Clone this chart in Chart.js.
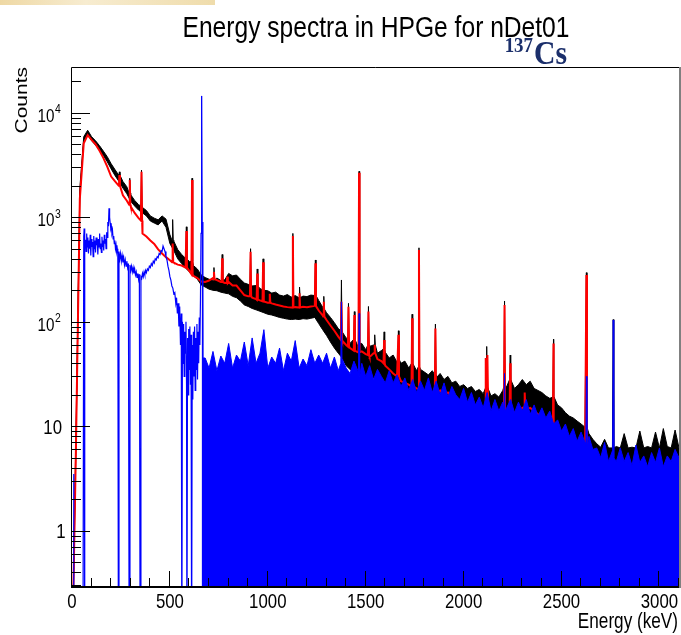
<!DOCTYPE html>
<html>
<head>
<meta charset="utf-8">
<title>Energy spectra in HPGe for nDet01</title>
<script src="https://cdn.jsdelivr.net/npm/chart.js@4.4.0/dist/chart.umd.min.js"></script>
<style>
  html, body { margin: 0; padding: 0; background: #fff; }
  #wrap { position: relative; width: 681px; height: 635px; }
  #strip { position: absolute; left: 0; top: 0; width: 215px; height: 5px;
           background: linear-gradient(to right, #eed8a4, #f7ecd0 40%, #efdcab); }
</style>
</head>
<body>
<div id="wrap">
  <canvas id="spectrum" width="681" height="635"></canvas>
  <div id="strip"></div>
</div>
<script>
// energy bins every 20 keV, 0..3100
const energy = Array.from({length: 156}, (_, i) => i * 20);

const xTickLabels = [0, 500, 1000, 1500, 2000, 2500, 3000];
const yTickLabels = [1, 10, 100, 1000, 10000];

// background spectrum (red)
const redCounts = [
  0.05, 6, 1500, 5100, 6100, 5500, 5000, 4350, 3700, 3050,
  2450, 2200, 2020, 1620, 1440, 1270, 1100, 980, 700, 655,
  600, 555, 492, 450, 415, 388, 368, 352, 345, 330,
  305, 275, 262, 243, 240, 248, 262, 250, 240, 235,
  240, 222, 222, 200, 180, 175, 170, 165, 160, 156,
  152, 150, 146, 143, 140, 138, 137, 138, 137, 139,
  138, 140, 142, 128, 115, 104, 92, 82, 72, 66,
  60, 56, 53, 51, 52, 49, 46, 50, 44, 42,
  38, 35, 32, 30, 27, 26, 25, 24, 23, 22,
  21.5, 21, 21, 20, 22, 20, 21, 19, 18, 16.5,
  15.5, 15, 14.5, 14, 13.5, 13.5, 13, 13, 12.5, 12.2,
  12.5, 13, 14, 13.5, 13.3, 15, 14.5, 15, 14, 13,
  12, 11, 9.8, 8.8, 7.6, 6.8, 6.0, 5.5, 5.0, 4.8,
  4.6, 4.5, 4.3, 4.1, 4.0, 3.8, 3.7, 3.6, 3.5, 3.4,
  3.3, 3.2, 3.2, 3.1, 3.0, 3.0, 2.9, 2.9, 2.8, 2.8,
  2.8, 2.7, 2.7, 2.7, 2.6, 2.6
];
// [energy, base, top]
const redPeaks = [
  [242, 2000, 2540], [295, 1320, 2270], [355, 930, 2720], [514, 372, 560],
  [584, 330, 740], [613, 285, 2270], [725, 255, 300], [767, 240, 404],
  [793, 235, 270], [912, 175, 468], [946, 163, 290], [976, 157, 370],
  [1010, 152, 185], [1128, 137, 660], [1162, 137, 187], [1243, 141, 362],
  [1286, 112, 155], [1376, 67, 155], [1412, 58, 139], [1442, 53, 116],
  [1466, 51, 2670], [1514, 48, 125], [1546, 50, 60], [1594, 40, 67],
  [1667, 30, 75], [1737, 24, 108], [1772, 22.5, 485], [1856, 20.5, 86],
  [2113, 13.3, 45], [2123, 13, 48], [2209, 12.7, 145], [2238, 14, 40],
  [2312, 15, 21], [2459, 9, 62], [2627, 4.5, 280]
];

// measured spectrum (black), lower and upper edge of the error band
const blackLow = [
  0.05, 6, 1600, 5300, 6200, 5400, 4900, 4400, 3900, 3400,
  2900, 2500, 2200, 1900, 1680, 1420, 1280, 1170, 1100, 1030,
  920, 880, 845, 920, 800, 560, 480, 400, 360, 326,
  300, 275, 255, 225, 215, 205, 200, 198, 192, 188,
  185, 175, 170, 158, 145, 140, 134, 130, 126, 122,
  118, 116, 113, 110, 108, 106, 105, 106, 105, 107,
  106, 108, 110, 96, 84, 74, 64, 56, 50, 45,
  38, 35, 33, 32, 30, 29, 28, 29, 27, 26,
  25, 24, 22, 21, 20, 19.5, 19, 18, 17, 16.5,
  16, 15.5, 15, 14.5, 15, 14, 14, 13.5, 13, 12.5,
  12, 11.5, 11, 10.5, 10, 9.8, 9.5, 9.2, 9, 8.8,
  9, 9.2, 9.8, 9.5, 9.4, 10, 9.8, 9.8, 9.4, 9,
  8.5, 8, 7.5, 7, 6.3, 5.8, 5.3, 5, 4.7, 4.5,
  4.3, 4.2, 4.0, 3.9, 3.8, 3.8, 3.7, 3.7, 3.6, 3.6,
  3.5, 3.5, 3.4, 3.4, 3.4, 3.3, 3.3, 3.3, 3.2, 3.2,
  3.2, 3.2, 3.1, 3.1, 3.1, 3.1
];
const blackHigh = [
  0.05, 8, 1900, 5900, 6800, 5900, 5400, 4850, 4300, 3800,
  3250, 2850, 2520, 2200, 1960, 1640, 1450, 1320, 1240, 1160,
  1030, 980, 945, 1030, 960, 680, 590, 490, 440, 405,
  375, 345, 320, 280, 265, 255, 250, 262, 248, 252,
  290, 275, 280, 255, 235, 228, 220, 222, 208, 200,
  198, 188, 192, 180, 176, 182, 172, 178, 170, 176,
  174, 180, 178, 160, 138, 122, 110, 98, 86, 80,
  70, 62, 68, 58, 62, 54, 58, 60, 50, 53,
  51, 45, 48, 41, 40, 42, 36, 38, 34, 35,
  33, 31, 34, 29, 32, 28, 30, 26, 27, 24,
  25, 23, 24, 21.5, 22.5, 20.5, 23, 19.5, 20.5, 19,
  22, 24, 26, 23, 25, 28, 25, 27, 23, 22,
  21, 19.5, 18.5, 17.5, 16, 15, 13.5, 12.5, 12, 11.2,
  10.5, 9.8, 8.5, 7.5, 6.8, 6.3, 7.5, 6.2, 6.2, 6.4,
  6.2, 8.5, 6.2, 6.3, 6.2, 9.0, 6.2, 6.4, 6.2, 8.8,
  6.2, 9.5, 6.4, 6.2, 9.2, 6.2
];
const blackPeaks = [
  [242, 2520, 2720], [295, 1700, 2360], [355, 1280, 2830], [514, 600, 950],
  [584, 400, 810], [613, 380, 2360], [725, 250, 330], [767, 250, 440],
  [912, 225, 500], [946, 220, 320], [976, 202, 400], [1128, 175, 700],
  [1162, 170, 215], [1243, 178, 390], [1286, 132, 175], [1376, 82, 251],
  [1412, 68, 150], [1442, 68, 125], [1466, 62, 2750], [1514, 60, 140],
  [1546, 60, 75], [1594, 55, 80], [1667, 44, 82], [1737, 40, 118],
  [1772, 37, 510], [1856, 31, 95], [2118, 24, 58], [2209, 24, 158],
  [2238, 28, 48], [2459, 19, 68], [2627, 9.8, 295], [2764, 6.2, 105]
];

// source minus background (blue), below the 137Cs line: [energy, counts]
const blueLow = [
  [0, 0.05], [6, 0.05], [8, 3.5], [10, 0.05], [56, 0.05], [60, 650], [62, 780], [64, 0.05], [66, 540],
  [69, 610], [72, 470], [75, 700], [78, 520], [81, 640], [84, 450], [87, 600], [90, 500],
  [93, 680], [96, 430], [99, 620], [102, 520], [105, 580], [108, 420], [111, 660], [114, 500],
  [117, 600], [120, 460], [123, 640], [126, 540], [129, 580], [132, 440], [135, 620], [138, 520],
  [141, 700], [144, 500], [147, 560], [150, 460], [153, 650], [156, 520], [159, 600], [162, 480],
  [165, 680], [168, 560], [171, 620], [174, 500], [177, 720], [180, 640], [183, 900], [186, 820],
  [189, 1220], [192, 1000], [195, 880], [198, 780], [201, 820], [204, 700], [207, 740], [210, 620],
  [213, 660], [216, 560], [219, 600], [222, 500], [225, 540], [228, 470], [231, 500], [234, 440],
  [237, 0.05], [240, 470], [244, 400], [248, 450], [252, 380], [256, 430], [260, 370], [264, 410],
  [268, 350], [272, 390], [276, 340], [280, 380], [284, 330], [288, 360], [292, 0.05], [296, 350],
  [300, 310], [304, 340], [308, 300], [312, 330], [316, 290], [320, 320], [324, 280], [328, 300],
  [332, 265], [336, 290], [340, 255], [344, 285], [348, 0.05], [352, 270], [356, 260], [360, 290],
  [364, 270], [368, 300], [372, 280], [376, 310], [380, 295], [385, 320], [390, 310], [395, 340],
  [400, 330], [405, 360], [410, 345], [415, 380], [420, 365], [425, 400], [430, 390], [435, 420],
  [440, 410], [445, 450], [450, 440], [455, 480], [460, 470], [465, 530], [470, 500], [475, 470],
  [480, 420], [485, 390], [490, 340], [495, 310], [500, 270], [505, 250], [510, 220], [515, 210],
  [520, 185], [525, 190], [530, 150], [534, 170], [538, 120], [542, 150], [546, 90], [550, 140],
  [554, 60], [558, 120], [561, 0.05], [564, 100], [567, 40], [570, 95], [573, 30], [576, 80],
  [579, 50], [582, 100], [585, 25], [587, 0.05], [590, 70], [593, 20], [596, 85], [599, 35],
  [602, 90], [605, 25], [608, 75], [611, 0.05], [614, 60], [617, 18], [620, 80], [623, 30],
  [626, 90], [629, 22], [632, 70], [635, 35], [638, 95], [641, 28], [644, 80], [647, 40],
  [650, 110], [653, 60], [656, 160], [659, 700], [662, 14500], [665, 900], [668, 45]
];
// blue above 680 keV (dense noise, drawn filled), same 20 keV bins
const blueHigh = [
  45, 36, 52, 34, 47, 40, 62, 36, 48, 42,
  64, 38, 70, 40, 50, 84, 36, 46, 40, 56,
  34, 50, 42, 66, 36, 44, 38, 54, 40, 48,
  40, 50, 36, 46, 34, 44, 36, 32, 42, 34,
  40, 30, 38, 28, 35, 30, 26, 34, 26, 31,
  24, 29, 22, 28, 21, 27, 22, 29, 21, 27,
  20, 26, 19, 24, 20, 18, 23, 17, 21, 16,
  19, 15, 21, 14, 18, 14, 17, 15, 18, 13.5,
  17, 14, 18, 13, 16, 12.5, 15, 12, 14, 10.5,
  11.5, 9, 10.5, 8, 9.5, 7.2, 8.8, 7, 8, 6,
  6.2, 5, 7, 4.6, 5.8, 4.6, 6.2, 4.6, 5.6, 4.2,
  6.6, 4.5, 5.2, 4.1, 5.6, 4.5, 6.2, 4.1, 5.2, 4.6,
  6, 5
];
const bluePeaks = [
  [1376, 40, 155], [1466, 30, 120], [2209, 14, 32], [2627, 6, 30], [2764, 5, 104]
];

function gridPoints(counts, startE) {
  const es = energy.filter(e => e >= startE);
  return es.map((e, i) => ({x: e, y: counts[i]}));
}

function addPeaks(points, peaks) {
  peaks.forEach(([e, base, top]) => {
    points.push({x: e - 3, y: base}, {x: e, y: top}, {x: e + 3, y: base});
  });
  return points.sort((a, b) => a.x - b.x);
}

const redPts = addPeaks(gridPoints(redCounts, 0), redPeaks);
const blackLowPts = gridPoints(blackLow, 0);
const blackHighPts = addPeaks(gridPoints(blackHigh, 0), blackPeaks);
const blueLinePts = blueLow.filter(p => p[0] <= 662).map(([e, c]) => ({x: e, y: c}));
const blueFillPts = addPeaks(
  blueLow.filter(p => p[0] >= 662).map(([e, c]) => ({x: e, y: c})).concat(gridPoints(blueHigh, 680)),
  bluePeaks);

function squeezed(ctx, text, x, y, font, align, sx) {
  ctx.save();
  ctx.translate(x, y);
  ctx.scale(sx, 1);
  ctx.font = font;
  ctx.textAlign = align;
  ctx.textBaseline = 'alphabetic';
  ctx.fillText(text, 0, 0);
  ctx.restore();
}

const SANS = '"Liberation Sans", Arial, Helvetica, sans-serif';

// ROOT style frame, inward ticks and labels
const rootAxes = {
  id: 'rootAxes',
  afterDraw(chart) {
    const {ctx, chartArea: a} = chart;
    const xs = chart.scales.x, ys = chart.scales.y;
    ctx.save();
    ctx.strokeStyle = '#000';
    ctx.fillStyle = '#000';
    ctx.lineWidth = 1;
    ctx.beginPath();
    for (let v = 0; v <= 3100; v += 100) {
      const px = Math.round(xs.getPixelForValue(v)) - 0.5;
      const len = v % 500 === 0 ? 15 : 8;
      ctx.moveTo(px, a.bottom);
      ctx.lineTo(px, a.bottom - len);
    }
    for (let d = -1; d <= 4; d++) {
      for (let k = 1; k <= 9; k++) {
        const v = k * Math.pow(10, d);
        if (v < ys.min || v > ys.max) continue;
        const py = Math.round(ys.getPixelForValue(v)) + 0.5;
        ctx.moveTo(a.left, py);
        ctx.lineTo(a.left + (k === 1 ? 18 : 9), py);
      }
    }
    ctx.stroke();

    // frame
    ctx.beginPath();
    ctx.moveTo(a.left - 0.5, a.bottom);
    ctx.lineTo(a.left - 0.5, a.top + 0.5);
    ctx.lineTo(a.right, a.top + 0.5);
    ctx.stroke();
    ctx.lineWidth = 2;
    ctx.beginPath();
    ctx.moveTo(a.left - 1, a.bottom + 1);
    ctx.lineTo(a.right, a.bottom + 1);
    ctx.stroke();
    ctx.strokeStyle = '#808080';
    ctx.beginPath();
    ctx.moveTo(a.right + 1, a.top);
    ctx.lineTo(a.right + 1, a.bottom + 2);
    ctx.stroke();

    // x labels
    xTickLabels.forEach(v => {
      squeezed(ctx, String(v), xs.getPixelForValue(v), 608, '21px ' + SANS, 'center', 0.8);
    });
    // y labels
    yTickLabels.forEach(v => {
      const py = ys.getPixelForValue(v);
      const exp = Math.round(Math.log10(v));
      if (exp === 0) {
        squeezed(ctx, '1', 65.5, py + 7.5, '21px ' + SANS, 'right', 0.8);
      } else if (exp === 1) {
        squeezed(ctx, '10', 62, py + 7.5, '21px ' + SANS, 'right', 0.8);
      } else {
        squeezed(ctx, '10', 54.5, py + 9, '19px ' + SANS, 'right', 0.8);
        squeezed(ctx, String(exp), 55, py + 0.5, '13px ' + SANS, 'left', 0.8);
      }
    });

    // axis titles
    squeezed(ctx, 'Energy (keV)', 678, 628, '22px ' + SANS, 'right', 0.78);
    ctx.save();
    ctx.translate(27, 67);
    ctx.rotate(-Math.PI / 2);
    ctx.scale(1, 0.8);
    ctx.font = '21px ' + SANS;
    ctx.textAlign = 'right';
    ctx.fillText('Counts', 0, 0);
    ctx.restore();

    // title and source label
    squeezed(ctx, 'Energy spectra in HPGe for nDet01', 376, 37, '30px ' + SANS, 'center', 0.82);
    ctx.fillStyle = '#1b2f6b';
    const serif = '"Liberation Serif", "Times New Roman", serif';
    squeezed(ctx, 'Cs', 567, 64, 'bold 33px ' + serif, 'right', 0.9);
    ctx.font = 'bold 33px ' + serif;
    const csW = ctx.measureText('Cs').width * 0.9;
    squeezed(ctx, '137', 567 - csW - 1, 52, 'bold 21px ' + serif, 'right', 0.9);
    ctx.restore();
  }
};

const chart = new Chart(document.getElementById('spectrum').getContext('2d'), {
  type: 'line',
  data: {
    datasets: [
      {data: blackLowPts, borderColor: '#000', borderWidth: 1, fill: false, order: 5},
      {data: blackHighPts, borderColor: '#000', backgroundColor: '#000', borderWidth: 1, fill: '-1', order: 4},
      {data: redPts, borderColor: '#ff0000', borderWidth: 2, fill: false, order: 3},
      {data: blueFillPts, borderColor: '#0000ff', backgroundColor: '#0000ff', borderWidth: 1, fill: 'start', order: 2},
      {data: blueLinePts, borderColor: '#0000ff', borderWidth: 1.2, fill: false, order: 1}
    ]
  },
  options: {
    responsive: false,
    animation: false,
    events: [],
    layout: {padding: {left: 72, right: 2, top: 67, bottom: 49}},
    elements: {point: {radius: 0}, line: {tension: 0}},
    plugins: {legend: {display: false}, tooltip: {enabled: false}, title: {display: false}},
    scales: {
      x: {type: 'linear', min: 0, max: 3100, display: false},
      y: {type: 'logarithmic', min: 0.296, max: 27400, display: false}
    }
  },
  plugins: [rootAxes]
});
</script>
</body>
</html>
